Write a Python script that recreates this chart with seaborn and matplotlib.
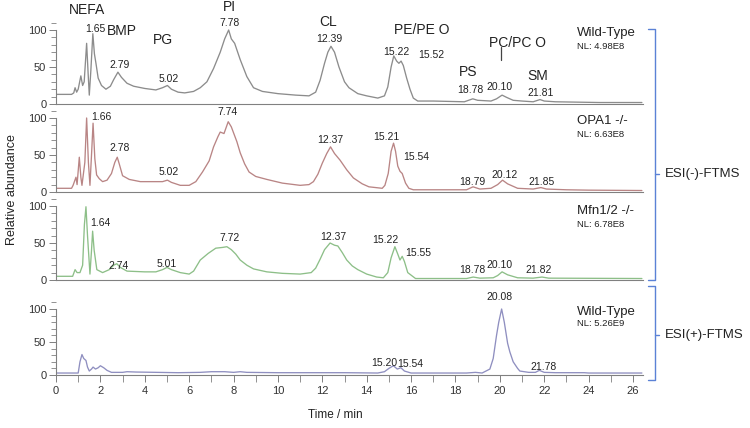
import numpy as np
import matplotlib.pyplot as plt
import seaborn as sns
from matplotlib.ticker import MultipleLocator

# Chromatogram traces (time in min, relative abundance in %)
wt_neg_t = [0.0, 0.7, 0.8, 0.86, 0.93, 1.0, 1.12, 1.2, 1.27, 1.38, 1.45, 1.5, 1.57, 1.66, 1.73, 1.8, 1.9,
            2.05, 2.25, 2.45, 2.6, 2.79, 2.95, 3.2, 3.5, 4.0, 4.5, 4.8, 5.02, 5.2, 5.5, 5.8, 6.2, 6.5, 6.8,
            7.1, 7.4, 7.6, 7.78, 7.9, 8.05, 8.3, 8.6, 8.9, 9.3, 10.0, 10.8, 11.4, 11.7, 11.9, 12.1, 12.25,
            12.39, 12.55, 12.75, 13.0, 13.2, 13.6, 14.0, 14.5, 14.8, 14.95, 15.1, 15.22, 15.35, 15.45,
            15.55, 15.65, 15.8, 15.95, 16.1, 16.3, 17.0, 18.4, 18.78, 19.0, 19.6, 19.85, 20.1, 20.3, 20.6,
            21.0, 21.5, 21.81, 22.0, 22.5, 23.5, 24.5, 26.4]
wt_neg_i = [13, 13, 15, 22, 16, 20, 38, 25, 30, 82, 40, 12, 45, 95, 68, 55, 35,
            25, 20, 24, 33, 43, 36, 28, 24, 21, 19, 22, 25, 20, 16, 15, 17, 22, 30,
            48, 70, 88, 100, 88, 82, 60, 37, 22, 17, 14, 12, 11, 16, 32, 55, 70,
            78, 70, 50, 30, 22, 14, 11, 8, 11, 23, 50, 65, 58, 55,
            58, 52, 35, 20, 8, 4, 4, 3, 7, 5, 4, 7, 12, 9, 5,
            4, 3, 6, 4, 3, 2.5, 2, 2]

opa1_t = [0.0, 0.7, 0.77, 0.9, 0.95, 1.05, 1.12, 1.17, 1.3, 1.38, 1.46, 1.53, 1.6, 1.67, 1.75, 1.83, 1.95,
          2.1, 2.3, 2.5, 2.65, 2.76, 2.85, 3.0, 3.3, 3.8, 4.5, 4.8, 5.02, 5.2, 5.6, 6.0, 6.3, 6.6, 6.9,
          7.1, 7.3, 7.4, 7.57, 7.76, 7.9, 8.0, 8.15, 8.3, 8.5, 8.7, 9.0, 9.5, 10.2, 11.0, 11.4, 11.6,
          11.8, 12.0, 12.2, 12.37, 12.55, 12.8, 13.1, 13.4, 13.8, 14.1, 14.7, 14.82, 14.97, 15.1, 15.21,
          15.3, 15.4, 15.5, 15.6, 15.75, 15.9, 16.1, 18.5, 18.79, 19.1, 19.6, 19.9, 20.12, 20.35, 20.8,
          21.5, 21.85, 22.1, 23.0, 24.0, 26.4]
opa1_i = [5, 5, 9, 20, 10, 47, 20, 9, 40, 100, 40, 9, 50, 93, 45, 23, 18,
          14, 16, 25, 40, 47, 38, 22, 17, 14, 14, 14, 16, 13, 9, 9, 14, 27, 42,
          61, 75, 81, 79, 95, 88, 80, 68, 53, 38, 27, 21, 17, 12, 9, 10, 14,
          24, 39, 52, 61, 52, 43, 30, 19, 11, 7, 5, 9, 25, 55, 66,
          55, 35, 28, 25, 12, 5, 3, 3, 7, 4, 5, 10, 16, 11, 5,
          4, 6, 4, 3, 2.5, 2]

mfn_t = [0.0, 0.75, 0.86, 0.95, 1.08, 1.2, 1.28, 1.35, 1.42, 1.53, 1.6, 1.65, 1.72, 1.84, 2.1, 2.4, 2.6,
         2.74, 2.9, 3.2, 4.0, 4.5, 4.8, 5.0, 5.2, 5.6, 6.0, 6.2, 6.5, 6.86, 7.2, 7.5, 7.7, 7.9, 8.1, 8.3,
         8.6, 8.9, 9.5, 10.2, 11.0, 11.5, 11.7, 11.9, 12.1, 12.35, 12.55, 12.7, 12.9, 13.1, 13.35, 13.6,
         14.0, 14.45, 14.75, 14.95, 15.1, 15.27, 15.4, 15.5, 15.6, 15.7, 15.85, 16.2, 18.5, 18.8, 19.1,
         19.7, 19.9, 20.1, 20.35, 20.8, 21.5, 21.9, 22.2, 26.4]
mfn_i = [5, 5, 14, 10, 10, 20, 75, 99, 60, 8, 40, 66, 40, 14, 10, 14, 20,
         22, 17, 12, 11, 11, 14, 17, 14, 10, 8, 12, 27, 36, 43, 44, 45, 41, 35, 27,
         20, 15, 11, 9, 8, 10, 16, 28, 41, 50, 47, 46, 37, 27, 19, 14,
         8, 4, 3, 10, 30, 45, 35, 27, 32, 25, 10, 2, 2, 4, 2.5,
         3, 6, 11, 7, 3, 2.5, 4, 2.5, 2]

wt_pos_t = [0.0, 1.0, 1.08, 1.17, 1.25, 1.35, 1.42, 1.5, 1.6, 1.67, 1.78, 1.9, 2.0, 2.15, 2.3, 2.5, 3.0,
            3.2, 3.6, 5.5, 6.5, 7.0, 7.6, 8.0, 8.3, 8.6, 10.0, 13.0, 14.5, 14.8, 15.0, 15.2, 15.38, 15.54,
            15.7, 16.0, 18.5, 18.9, 19.2, 19.55, 19.7, 19.85, 19.95, 20.08, 20.2, 20.35, 20.45, 20.6, 20.8,
            20.9, 21.3, 21.6, 21.78, 22.0, 22.5, 23.8, 24.0, 26.4]
wt_pos_i = [3, 3, 20, 31, 25, 22, 12, 6, 9, 12, 9, 11, 14, 11, 7, 4, 4,
            5, 4.5, 3.5, 4, 5, 5, 4, 5, 4, 3.5, 3.5, 3, 5, 10, 14, 9, 11,
            6, 3, 3, 4, 3, 9, 25, 60, 80, 100, 80, 48, 35, 20, 10,
            6, 4, 4, 7, 4, 3.5, 3.5, 3, 3]

colors = ["#8c8c8c", "#b98585", "#8dbf88", "#8f8fc0"]
samples = ["Wild-Type", "OPA1 -/-", "Mfn1/2 -/-", "Wild-Type"]
nl_values = ["NL: 4.98E8", "NL: 6.63E8", "NL: 6.78E8", "NL: 5.26E9"]

sns.set_style("ticks")
plt.rcParams['font.family'] = ['Liberation Sans', 'DejaVu Sans']

W, H = 750, 428
fig = plt.figure(figsize=(7.5, 4.28), dpi=100)

x0, x1 = 56, 643
xmax = 26.45
# (zero pixel row, px per unit)
panels = [(104, 0.74), (192, 0.74), (280, 0.74), (375, 0.66)]
traces = [(wt_neg_t, wt_neg_i), (opa1_t, opa1_i), (mfn_t, mfn_i), (wt_pos_t, wt_pos_i)]
ytop = 118

axes = []
for k, ((zp, sc), (t, v)) in enumerate(zip(panels, traces)):
    hp = ytop * sc
    ax = fig.add_axes([x0 / W, 1 - zp / H, (x1 - x0) / W, hp / H])
    ax.patch.set_alpha(0)
    sns.lineplot(x=t, y=v, ax=ax, color=colors[k], lw=0.95, sort=False, estimator=None)
    ax.set_xlim(0, xmax)
    ax.set_ylim(0, ytop)
    ax.set_xlabel("")
    ax.set_ylabel("")
    for s in ["top", "right"]:
        ax.spines[s].set_visible(False)
    for s in ["left", "bottom"]:
        ax.spines[s].set_color("#808080")
        ax.spines[s].set_linewidth(0.8)
    ax.spines["left"].set_bounds(0, 100)
    ax.set_yticks([0, 50, 100])
    ax.yaxis.set_minor_locator(MultipleLocator(10))
    ax.tick_params(axis="y", which="major", length=5, width=0.7, color="#808080",
                   labelsize=8, labelcolor="#333333", pad=2)
    ax.tick_params(axis="y", which="minor", length=3.5, width=0.6, color="#808080")
    if k < 3:
        ax.tick_params(axis="x", which="both", bottom=False, labelbottom=False)
    else:
        ax.set_xticks(np.arange(0, 27, 2))
        ax.xaxis.set_minor_locator(MultipleLocator(1))
        ax.tick_params(axis="x", which="major", length=5, width=0.7, color="#808080",
                       labelsize=8, labelcolor="#333333", pad=3)
        ax.tick_params(axis="x", which="minor", length=5, width=0.6, color="#808080")
    ax.text(23.47, 96 if k != 2 else 93, samples[k], fontsize=9.5, color="#222222",
            va="center", ha="left")
    ax.text(23.47, 78 if k != 2 else 75, nl_values[k], fontsize=6.8, color="#222222",
            va="center", ha="left")
    axes.append(ax)

num_kw = dict(fontsize=7.5, color="#222222", ha="center", va="center", clip_on=False)
cls_kw = dict(fontsize=10, color="#222222", ha="center", va="center", clip_on=False)

# Panel 1 annotations
a = axes[0]
for txt, x, y in [("NEFA", 1.4, 127), ("BMP", 2.95, 99), ("PG", 4.8, 86), ("PI", 7.8, 131),
                  ("CL", 12.25, 111), ("PE/PE O", 16.5, 100), ("PS", 18.55, 43),
                  ("PC/PC O", 20.8, 83), ("SM", 21.7, 38)]:
    a.text(x, y, txt, **cls_kw)
for txt, x, y in [("1.65", 1.75, 102), ("2.79", 2.85, 53), ("5.02", 5.1, 34), ("7.78", 7.8, 110),
                  ("12.39", 12.3, 88), ("15.22", 15.35, 70), ("15.52", 16.9, 66),
                  ("18.78", 18.65, 19), ("20.10", 20.0, 23), ("21.81", 21.85, 15)]:
    a.text(x, y, txt, **num_kw)
a.plot([20.05, 20.05], [59, 77], color="#444444", lw=0.9)

a = axes[1]
for txt, x, y in [("1.66", 2.03, 102), ("2.78", 2.88, 59), ("5.02", 5.1, 27), ("7.74", 7.75, 108),
                  ("12.37", 12.35, 70), ("15.21", 14.9, 74), ("15.54", 16.25, 47),
                  ("18.79", 18.75, 14), ("20.12", 20.2, 23), ("21.85", 21.9, 14)]:
    a.text(x, y, txt, **num_kw)

a = axes[2]
for txt, x, y in [("1.64", 2.0, 77), ("2.74", 2.84, 19), ("5.01", 5.0, 22), ("7.72", 7.84, 57),
                  ("12.37", 12.48, 58), ("15.22", 14.86, 54), ("15.55", 16.3, 36),
                  ("18.78", 18.74, 14), ("20.10", 20.0, 20), ("21.82", 21.75, 14)]:
    a.text(x, y, txt, **num_kw)

a = axes[3]
for txt, x, y in [("20.08", 20.0, 118), ("15.20", 14.8, 18), ("15.54", 15.95, 16),
                  ("21.78", 21.95, 12)]:
    a.text(x, y, txt, **num_kw)

# brackets
bc = "#5b82d6"


def bracket(ytop_px, ybot_px, ymid_px):
    xs = [648 / W, 655 / W, 655 / W, 648 / W]
    ys = [1 - ytop_px / H, 1 - ytop_px / H, 1 - ybot_px / H, 1 - ybot_px / H]
    fig.add_artist(plt.Line2D(xs, ys, transform=fig.transFigure, color=bc, lw=1.0))
    fig.add_artist(plt.Line2D([655 / W, 659 / W], [1 - ymid_px / H] * 2,
                              transform=fig.transFigure, color=bc, lw=1.0))


bracket(29, 280, 174)
bracket(286, 380, 335)
fig.text(665 / W, 1 - 174 / H, "ESI(-)-FTMS", fontsize=9.5, color="#222222", va="center")
fig.text(665 / W, 1 - 335 / H, "ESI(+)-FTMS", fontsize=9.5, color="#222222", va="center")

fig.text(12 / W, 1 - 190 / H, "Relative abundance", rotation=90, fontsize=9,
         color="#222222", va="center", ha="center")
fig.text(335 / W, 1 - 415 / H, "Time / min", fontsize=8.5, color="#222222",
         va="center", ha="center")

plt.savefig("out.png", dpi=100)
